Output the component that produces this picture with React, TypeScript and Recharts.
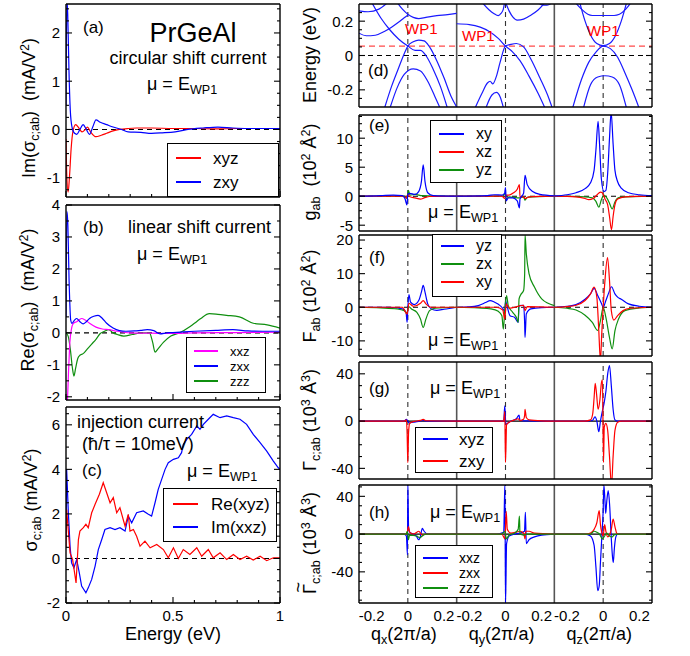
import React from 'react';
import { LineChart, Line, XAxis, YAxis, ReferenceLine } from 'recharts';

type Pt = [number, number];
type Side = 'left' | 'right' | 'top' | 'bottom';

const FONT = '"Liberation Sans", Arial, Helvetica, sans-serif';
const RED = '#ff0000';
const BLUE = '#0000ff';
const GREEN = '#0f8f0f';
const MAGENTA = '#ff00ff';
const BAND = '#1a1aff';
const SPAN = 0.54; // one q window (-0.27..0.27) in the joined x coordinate
const HALF = 0.27;
const PAD = 10; // extra room above/below each plot so edge labels are not clipped

// ---------- left column: energy axis
const energyTicks = [0, 0.5, 1];
const energyMinor = [0.1, 0.2, 0.3, 0.4, 0.6, 0.7, 0.8, 0.9];

// (a) circular shift current
const aTicks = [-1, 0, 1, 2];
const aMinor = [-1.25, -0.75, -0.5, -0.25, 0.25, 0.5, 0.75, 1.25, 1.5, 1.75, 2.25, 2.5];
const aXyz: Pt[] = [[0, -0.2], [0.004, -1.0], [0.01, -1.3], [0.016, -1.0], [0.024, -0.4], [0.032, -0.05], [0.045, 0.1], [0.06, 0.03], [0.075, -0.05], [0.09, 0.0], [0.1, 0.05], [0.115, -0.05], [0.14, -0.15], [0.165, -0.12], [0.19, -0.08], [0.22, -0.03], [0.25, 0.0], [0.29, 0.02], [0.33, 0.03], [0.4, 0.03], [0.5, 0.02], [0.6, 0.02], [0.7, 0.01], [0.8, 0.02], [0.9, 0.02], [1.0, 0.02]];
const aZxy: Pt[] = [[0, 0.5], [0.004, 2.7], [0.008, 2.4], [0.014, 1.2], [0.02, 0.4], [0.028, 0.05], [0.04, -0.08], [0.05, -0.1], [0.065, 0.0], [0.08, 0.1], [0.095, 0.0], [0.11, -0.1], [0.125, 0.05], [0.14, 0.2], [0.16, 0.15], [0.19, 0.1], [0.22, 0.05], [0.26, 0.0], [0.29, -0.05], [0.35, -0.06], [0.4, -0.08], [0.45, -0.07], [0.51, -0.05], [0.57, 0.0], [0.64, 0.03], [0.71, 0.05], [0.78, 0.03], [0.85, 0.02], [1.0, 0.02]];

// (b) linear shift current
const bTicks = [-2, -1, 0, 1, 2, 3, 4];
const bMinor = [-1.5, -0.5, 0.5, 1.5, 2.5, 3.5];
const bXxz: Pt[] = [[0, -2.5], [0.006, -2.2], [0.012, -1.2], [0.018, -0.3], [0.025, 0.1], [0.035, 0.3], [0.05, 0.35], [0.073, 0.45], [0.09, 0.4], [0.11, 0.3], [0.14, 0.18], [0.17, 0.12], [0.2, 0.1], [0.24, 0.05], [0.3, 0.0], [0.4, -0.01], [0.5, -0.02], [0.6, 0.0], [0.8, 0.01], [1.0, 0.02]];
const bZxx: Pt[] = [[0, 0.5], [0.004, 3.8], [0.008, 3.5], [0.015, 1.5], [0.022, 0.4], [0.028, 0.3], [0.04, 0.4], [0.05, 0.45], [0.065, 0.35], [0.08, 0.28], [0.095, 0.35], [0.11, 0.45], [0.13, 0.52], [0.15, 0.55], [0.17, 0.45], [0.19, 0.3], [0.22, 0.15], [0.25, 0.07], [0.28, 0.05], [0.32, 0.06], [0.35, 0.08], [0.38, 0.1], [0.41, 0.07], [0.44, -0.03], [0.47, 0.0], [0.5, 0.01], [0.6, 0.05], [0.7, 0.08], [0.78, 0.1], [0.85, 0.06], [0.92, 0.05], [1.0, 0.05]];
const bZzz: Pt[] = [[0, 0.0], [0.01, -0.1], [0.02, -0.5], [0.03, -1.1], [0.037, -1.35], [0.045, -1.1], [0.055, -0.8], [0.065, -0.7], [0.08, -0.65], [0.1, -0.5], [0.12, -0.35], [0.14, -0.2], [0.16, -0.02], [0.18, 0.05], [0.2, 0.1], [0.22, 0.0], [0.24, -0.05], [0.27, -0.1], [0.31, -0.05], [0.35, 0.0], [0.39, 0.0], [0.405, -0.3], [0.416, -0.6], [0.43, -0.5], [0.455, -0.3], [0.49, -0.1], [0.53, 0.0], [0.58, 0.2], [0.61, 0.35], [0.63, 0.45], [0.67, 0.6], [0.71, 0.58], [0.75, 0.55], [0.81, 0.5], [0.875, 0.3], [0.94, 0.25], [1.0, 0.15]];

// (c) injection current
const cTicks = [-2, 0, 2, 4, 6];
const cMinor = [-1.5, -1, -0.5, 0.5, 1, 1.5, 2.5, 3, 3.5, 4.5, 5, 5.5, 6.5];
const cReXyz: Pt[] = [[0, 0.5], [0.003, 2.2], [0.019, 0.25], [0.031, -0.05], [0.047, -1.1], [0.058, 0.85], [0.065, 1.23], [0.081, 1.38], [0.093, 1.53], [0.104, 1.38], [0.12, 2.05], [0.136, 2.43], [0.156, 2.88], [0.174, 3.4], [0.19, 2.95], [0.206, 2.5], [0.221, 2.73], [0.237, 2.05], [0.252, 2.28], [0.276, 1.45], [0.291, 1.98], [0.299, 1.23], [0.315, 1.3], [0.33, 1.0], [0.346, 0.55], [0.369, 0.78], [0.393, 0.48], [0.424, 0.63], [0.455, 0.4], [0.478, 0.03], [0.502, 0.48], [0.525, 0.0], [0.548, 0.4], [0.579, 0.18], [0.611, 0.48], [0.634, 0.1], [0.665, 0.4], [0.688, 0.03], [0.72, 0.25], [0.751, -0.05], [0.782, 0.18], [0.813, -0.05], [0.844, 0.1], [0.875, -0.07], [0.907, 0.1], [0.938, -0.1], [0.969, 0.03], [1.0, 0.03]];
const cImXxz: Pt[] = [[0, 1.0], [0.003, 4.0], [0.011, 2.05], [0.019, 0.55], [0.026, -0.2], [0.037, -0.42], [0.05, -0.05], [0.062, -0.64], [0.073, -1.24], [0.093, -1.54], [0.104, -1.32], [0.12, -0.94], [0.136, -0.34], [0.151, 0.4], [0.167, 0.85], [0.182, 1.3], [0.206, 1.38], [0.229, 1.3], [0.252, 1.38], [0.276, 1.23], [0.291, 1.9], [0.307, 1.6], [0.33, 2.05], [0.361, 2.13], [0.385, 1.98], [0.4, 1.9], [0.416, 2.5], [0.431, 3.1], [0.447, 3.55], [0.463, 4.0], [0.478, 4.3], [0.502, 4.45], [0.525, 4.52], [0.54, 4.75], [0.548, 5.12], [0.564, 5.35], [0.587, 5.57], [0.611, 5.95], [0.626, 5.8], [0.642, 6.02], [0.665, 6.25], [0.688, 6.47], [0.72, 6.32], [0.751, 6.4], [0.782, 6.32], [0.813, 6.25], [0.844, 6.02], [0.875, 5.57], [0.907, 5.2], [0.938, 4.82], [0.969, 4.37], [0.992, 4.07], [1.0, 4.0]];

// ---------- right column: q windows (qx, qy, qz)
const qTicks = [-0.2, 0, 0.2];
const qNames = ['x', 'y', 'z'];
const wp1Energy = 0.055;

// (d) bands, one list per window
const dTicks = [-0.2, 0, 0.2];
const dMinor = [-0.25, -0.15, -0.1, -0.05, 0.05, 0.1, 0.15, 0.25];
const bandsQx: Pt[][] = [
  [[-0.27, 0.26], [-0.22, 0.255], [-0.16, 0.27], [-0.11, 0.31]],
  [[-0.06, 0.31], [-0.03, 0.27], [0.0, 0.24], [0.03, 0.222], [0.06, 0.215], [0.1, 0.222], [0.16, 0.232], [0.22, 0.238], [0.27, 0.245]],
  [[-0.27, 0.13], [-0.23, 0.115], [-0.18, 0.118], [-0.13, 0.14], [-0.09, 0.165], [-0.05, 0.195], [-0.02, 0.22], [0.0, 0.235]],
  [[-0.2, 0.31], [-0.15, 0.22], [-0.1, 0.15], [-0.05, 0.095], [0, 0.055], [0.04, 0.03], [0.07, 0.03], [0.1, 0.0], [0.14, -0.08], [0.18, -0.18], [0.22, -0.31]],
  [[-0.13, -0.31], [-0.09, -0.18], [-0.05, -0.07], [-0.02, 0.01], [0, 0.055], [0.03, 0.08], [0.06, 0.09], [0.09, 0.085], [0.12, 0.05], [0.16, -0.03], [0.2, -0.13], [0.24, -0.24], [0.27, -0.3]],
  [[-0.1, -0.31], [-0.06, -0.19], [-0.02, -0.11], [0.03, -0.078], [0.07, -0.09], [0.11, -0.15], [0.15, -0.24], [0.18, -0.31]],
];
const bandsQy: Pt[][] = [
  [[-0.13, 0.31], [-0.09, 0.265], [-0.065, 0.245], [-0.04, 0.232], [-0.025, 0.245], [-0.012, 0.27], [-0.005, 0.31]],
  [[0.0, 0.31], [0.02, 0.26], [0.04, 0.225], [0.065, 0.206], [0.1, 0.212], [0.14, 0.235], [0.18, 0.265], [0.22, 0.31]],
  [[-0.27, 0.185], [-0.2, 0.18], [-0.14, 0.165], [-0.09, 0.14], [-0.04, 0.1], [0, 0.055], [0.04, 0.02], [0.08, -0.03], [0.13, -0.12], [0.18, -0.22], [0.22, -0.31]],
  [[-0.17, -0.31], [-0.13, -0.22], [-0.1, -0.16], [-0.085, -0.15], [-0.07, -0.165], [-0.05, -0.12], [-0.03, -0.04], [0, 0.055], [0.03, 0.065], [0.06, 0.07], [0.1, 0.05], [0.14, -0.02], [0.19, -0.13], [0.24, -0.25], [0.26, -0.31]],
  [[-0.11, -0.31], [-0.075, -0.23], [-0.05, -0.215], [-0.03, -0.24], [-0.01, -0.31]],
  [[0.18, 0.31], [0.2, 0.295], [0.23, 0.293], [0.26, 0.31]],
];
const bandsQz: Pt[][] = [
  [[-0.155, 0.31], [-0.12, 0.27], [-0.085, 0.24], [-0.06, 0.233], [0.06, 0.233], [0.09, 0.24], [0.125, 0.27], [0.155, 0.31]],
  [[-0.13, 0.31], [-0.1, 0.2], [-0.07, 0.12], [-0.035, 0.07], [0, 0.057], [0.035, 0.07], [0.07, 0.12], [0.1, 0.2], [0.13, 0.31]],
  [[-0.17, -0.31], [-0.12, -0.14], [-0.08, -0.04], [-0.04, 0.02], [0, 0.055], [0.04, 0.04], [0.08, -0.01], [0.12, -0.1], [0.16, -0.2], [0.2, -0.31]],
  [[-0.11, -0.31], [-0.07, -0.17], [-0.03, -0.125], [0.01, -0.118], [0.05, -0.125], [0.09, -0.17], [0.13, -0.31]],
];

// (e) quantum metric g_ab, series per window [qx, qy, qz]
const eTicks = [-5, 0, 5, 10];
const eMinor = [-3.75, -2.5, -1.25, 1.25, 2.5, 3.75, 6.25, 7.5, 8.75, 11.25, 12.5, 13.75];
const eXy: Pt[][] = [
  [[-0.27, 0], [-0.15, 0.1], [-0.08, 0.2], [-0.03, 0.1], [-0.015, -0.5], [-0.005, -1.5], [0.0, 0.3], [0.01, 0.5], [0.04, 0.3], [0.06, 0.8], [0.075, 2.5], [0.085, 5.4], [0.095, 2.5], [0.11, 0.6], [0.14, 0.1], [0.27, 0]],
  [[-0.27, 0], [-0.1, 0.1], [-0.06, 0.25], [-0.02, 0.2], [-0.005, 0.5], [0.0, 1.5], [0.004, -0.8], [0.015, -0.3], [0.04, -0.3], [0.065, -0.8], [0.077, -2.0], [0.08, -0.5], [0.1, 0.5], [0.108, 3.6], [0.12, 2.0], [0.15, 0.8], [0.19, 0.3], [0.27, 0.05]],
  [[-0.27, 0.05], [-0.2, 0.25], [-0.15, 0.6], [-0.1, 1.3], [-0.07, 2.3], [-0.05, 4.5], [-0.04, 8], [-0.028, 12.9], [-0.02, 9], [-0.01, 3], [0.004, 0.8], [0.015, 1], [0.025, 4], [0.035, 10], [0.044, 14.5], [0.055, 9], [0.065, 4.5], [0.08, 2.5], [0.1, 1.4], [0.14, 0.6], [0.2, 0.25], [0.27, 0.1]],
];
const eXz: Pt[][] = [
  [[-0.27, 0], [-0.03, 0], [-0.008, -0.3], [0.0, 0.3], [0.012, -0.1], [0.04, -0.3], [0.07, -0.5], [0.09, -0.3], [0.12, -0.05], [0.27, 0]],
  [[-0.27, 0], [-0.02, 0], [-0.004, -0.4], [0.004, 0.2], [0.02, 0.2], [0.045, 0.6], [0.065, 1.2], [0.077, 2.0], [0.08, -0.1], [0.1, -0.1], [0.108, -0.4], [0.13, -0.1], [0.27, 0]],
  [[-0.27, 0], [-0.15, -0.1], [-0.1, -0.4], [-0.08, -0.6], [-0.055, -0.4], [-0.035, 0.2], [-0.015, 0.7], [-0.005, 0.6], [0.01, -0.5], [0.025, -1.5], [0.035, -3.5], [0.046, -5.8], [0.055, -3.5], [0.065, -1.5], [0.08, -0.5], [0.12, -0.1], [0.27, 0]],
];
const eYz: Pt[][] = [
  [[-0.27, 0], [-0.02, 0], [-0.004, -0.4], [0.003, 1.0], [0.012, 0.2], [0.04, 0.3], [0.08, 0.1], [0.27, 0]],
  [[-0.27, 0], [-0.015, 0], [-0.003, 0.5], [0.004, -0.5], [0.02, -0.1], [0.077, -0.3], [0.1, -0.1], [0.108, -0.7], [0.12, -0.2], [0.27, 0]],
  [[-0.27, 0], [-0.1, -0.1], [-0.06, -0.3], [-0.04, -0.9], [-0.024, -1.9], [-0.01, -0.6], [0.005, 0.2], [0.02, -0.3], [0.035, -1.2], [0.05, -2.2], [0.065, -1.0], [0.09, -0.2], [0.27, 0]],
];

// (f) Berry curvature F_ab
const fTicks = [-10, 0, 10, 20];
const fMinor = [-12.5, -7.5, -5, -2.5, 2.5, 5, 7.5, 12.5, 15, 17.5];
const fYz: Pt[][] = [
  [[-0.27, 0], [-0.1, 0], [-0.03, -0.5], [-0.01, -1.5], [-0.004, -4.5], [0.0, 0], [0.006, 3.8], [0.015, 1.5], [0.035, 0.8], [0.06, 2], [0.075, 4.5], [0.085, 6.5], [0.095, 4.5], [0.11, 1.0], [0.13, -0.5], [0.16, -0.9], [0.2, -0.6], [0.27, 0]],
  [[-0.27, 0], [-0.2, 0.1], [-0.15, 0.5], [-0.11, 1.4], [-0.085, 2.0], [-0.06, 1.5], [-0.03, 0.5], [-0.012, -0.6], [-0.004, -1.5], [0.0, 2.0], [0.008, 0.5], [0.025, -2.5], [0.05, -3], [0.07, -4.5], [0.075, 0.5], [0.1, 0.6], [0.106, -5], [0.108, -9], [0.115, -2], [0.14, -0.5], [0.2, -0.1], [0.27, 0]],
  [[-0.27, 0], [-0.2, 0.3], [-0.15, 0.8], [-0.1, 2.4], [-0.07, 4], [-0.05, 5.6], [-0.03, 3.5], [-0.01, 1.2], [0.0, 0], [0.015, 2], [0.03, 4.2], [0.046, 6.1], [0.065, 4], [0.08, 3], [0.1, 2.4], [0.14, 1], [0.2, 0.3], [0.27, 0]],
];
const fZx: Pt[][] = [
  [[-0.27, 0], [-0.15, -0.2], [-0.06, -0.5], [-0.02, -1], [-0.005, -1.8], [0.005, 0.2], [0.02, -0.5], [0.05, -1.5], [0.07, -3.5], [0.085, -6], [0.1, -3.5], [0.12, -1], [0.15, -0.3], [0.27, 0]],
  [[-0.27, 0], [-0.15, -0.2], [-0.08, -0.5], [-0.04, -1.2], [-0.02, -2.5], [-0.012, -6.5], [-0.004, -1], [0.006, 3.5], [0.015, 0.5], [0.04, -1.5], [0.06, -3], [0.07, -4.5], [0.075, 2.5], [0.085, 3.8], [0.1, 5], [0.106, 10], [0.108, 21.5], [0.115, 16], [0.13, 10], [0.16, 6], [0.2, 2.5], [0.27, 0.5]],
  [[-0.27, 0], [-0.2, -0.3], [-0.15, -0.8], [-0.1, -2.4], [-0.06, -4.5], [-0.03, -6.9], [-0.015, -4], [0.0, 0], [0.015, -3], [0.035, -9], [0.05, -12.4], [0.065, -7], [0.085, -3.5], [0.12, -1], [0.2, -0.2], [0.27, 0]],
];
const fXy: Pt[][] = [
  [[-0.27, 0], [-0.03, 0], [-0.004, -2], [0.006, 1.2], [0.03, 0.3], [0.07, 1.2], [0.085, 2], [0.1, 1], [0.13, 0], [0.27, 0]],
  [[-0.27, 0], [-0.05, 0], [-0.015, -0.8], [-0.004, -3.5], [0.004, 1], [0.02, -0.3], [0.05, 0], [0.1, 0.6], [0.108, -1], [0.12, 0.2], [0.27, 0]],
  [[-0.27, 0], [-0.2, 0.2], [-0.15, 0.6], [-0.1, 2], [-0.07, 4], [-0.05, 6], [-0.035, 3], [-0.025, -6], [-0.015, -16], [-0.008, -8], [0.0, 0], [0.01, 8], [0.024, 14.8], [0.035, 8], [0.045, -1], [0.059, -3.8], [0.08, -2.5], [0.11, -1], [0.15, -0.3], [0.27, 0]],
];

// (g) Gamma_c;ab
const gTicks = [-40, 0, 40];
const gMinor = [-30, -20, -10, 10, 20, 30];
const gXyz: Pt[][] = [
  [[-0.27, 0], [-0.02, 0], [-0.008, 1.5], [-0.002, 0.5], [0.006, -1.5], [0.03, -1], [0.06, -0.3], [0.085, 0.5], [0.1, 0], [0.27, 0]],
  [[-0.27, 0], [-0.01, 0], [-0.004, 13], [0.002, -3], [0.01, -2], [0.03, 0], [0.06, 2], [0.075, 5], [0.08, 0.5], [0.1, 0.2], [0.27, 0]],
  [[-0.27, 0], [-0.1, 0], [-0.06, 0.5], [-0.045, 3.5], [-0.035, 0], [-0.024, -9], [-0.015, 0], [-0.005, 8], [0.005, 15], [0.015, 25], [0.025, 40], [0.035, 47], [0.045, 30], [0.055, 10], [0.065, 1], [0.08, 0], [0.27, 0]],
];
const gZxy: Pt[][] = [
  [[-0.27, 0], [-0.02, 0], [-0.008, 1], [-0.004, -10], [0.0, -35], [0.004, -10], [0.01, -2], [0.03, -0.5], [0.07, 0.6], [0.085, 1.5], [0.1, 0.3], [0.27, 0]],
  [[-0.27, 0], [-0.01, 0], [-0.004, 8], [0.0, -35], [0.006, -3], [0.02, -1], [0.05, 1], [0.07, 2], [0.08, 0.5], [0.1, 1.5], [0.106, 5], [0.108, 10], [0.115, 3], [0.13, 1], [0.2, 0.2], [0.27, 0]],
  [[-0.27, 0], [-0.1, 0], [-0.07, 1], [-0.058, 6], [-0.05, 20], [-0.044, 32], [-0.036, 22], [-0.028, 10], [-0.018, 18], [-0.01, 32], [-0.004, 35], [0.002, -35], [0.006, -5], [0.015, -2], [0.025, -8], [0.035, -30], [0.046, -55], [0.055, -30], [0.065, -8], [0.08, -1], [0.1, 0], [0.27, 0]],
];

// (h) tilde Gamma_c;ab
const hTicks = [-40, 0, 40];
const hMinor = [-70, -60, -50, -30, -20, -10, 10, 20, 30, 50];
const hXxz: Pt[][] = [
  [[-0.27, 0], [-0.02, 0], [-0.008, -2], [-0.002, -22], [0.0, 55], [0.004, 8], [0.01, 2], [0.03, 0], [0.05, -3], [0.06, -6], [0.07, -2], [0.08, 6], [0.09, 3], [0.11, 0], [0.27, 0]],
  [[-0.27, 0], [-0.05, 0], [-0.01, 2], [-0.003, 55], [0.0, -75], [0.006, -10], [0.02, -2], [0.05, 0], [0.08, 1], [0.105, 3], [0.11, 23], [0.115, -10], [0.13, -6], [0.16, -3], [0.2, -1], [0.27, 0]],
  [[-0.27, 0], [-0.1, 0], [-0.07, -2], [-0.05, -12], [-0.04, -35], [-0.03, -60], [-0.022, -55], [-0.015, -30], [-0.008, -5], [0.0, 25], [0.004, 52], [0.01, 35], [0.014, 22], [0.02, 35], [0.028, 46], [0.036, 30], [0.045, -5], [0.052, -25], [0.056, -30], [0.062, -15], [0.07, -3], [0.08, 0], [0.27, 0]],
];
const hZxx: Pt[][] = [
  [[-0.27, 0], [-0.01, 0], [-0.003, 2], [0.003, 8], [0.01, 2], [0.03, 0], [0.05, 2], [0.06, 3], [0.08, -1], [0.1, 0], [0.27, 0]],
  [[-0.27, 0], [-0.02, 0], [-0.003, -5], [0.004, 24], [0.01, 5], [0.03, 1], [0.06, 2], [0.08, 3], [0.1, 1], [0.108, -5], [0.112, 3], [0.13, 3], [0.16, 1], [0.27, 0]],
  [[-0.27, 0], [-0.1, 0], [-0.07, 1], [-0.05, 5], [-0.035, 12], [-0.022, 25], [-0.015, 10], [-0.008, 2], [0.0, -2], [0.008, 10], [0.015, 3], [0.025, -3], [0.035, -1], [0.045, 5], [0.055, 16], [0.065, 8], [0.075, 1], [0.09, 0], [0.27, 0]],
];
const hZzz: Pt[][] = [
  [[-0.27, 0], [-0.01, 0], [-0.003, 3], [0.003, -6], [0.01, -1], [0.05, -2], [0.065, -4], [0.08, -2], [0.1, 0], [0.27, 0]],
  [[-0.27, 0], [-0.02, 0], [-0.003, 3], [0.004, -5], [0.02, -1], [0.05, 1], [0.07, 5], [0.077, 19], [0.08, 0], [0.1, -1], [0.12, 0], [0.27, 0]],
  [[-0.27, 0], [-0.07, 0], [-0.05, 3], [-0.035, 2], [-0.02, 0], [-0.005, -5], [0.005, -3], [0.02, 1], [0.035, -2], [0.05, -3], [0.06, -1], [0.08, 0], [0.27, 0]],
];

// ---------- helpers
interface Curve { pts: { x: number; y: number }[]; color: string; type?: 'linear' | 'monotone' }
interface AxisSpec { domain: [number, number]; major: number[]; minor: number[] }

const plain = (pts: Pt[]) => pts.map(([x, y]) => ({ x, y }));
const inWindow = (s: number, pts: Pt[]) => pts.map(([q, y]) => ({ x: s * SPAN + HALF + q, y }));
const perWindow = (series: Pt[][], color: string): Curve[] =>
  series.map((pts, s) => ({ pts: inWindow(s, pts), color }));

const joinedQTicks = [0, 1, 2].flatMap((s) => qTicks.map((q) => s * SPAN + HALF + q));
const qLabel = (x: number) => {
  const s = Math.min(2, Math.floor(x / SPAN));
  const q = Math.round((x - s * SPAN - HALF) * 10) / 10;
  return q === 0 ? '0' : String(q);
};

const tickMaker = (side: Side, major: number[], marks: boolean, labels: boolean, fmt: (v: number) => string = String) =>
  (props: any) => {
    const { x, y, payload } = props;
    const v: number = payload.value;
    const isMajor = major.some((m) => Math.abs(m - v) < 1e-9);
    const len = marks ? (isMajor ? 6 : 3) : 0;
    const st = { stroke: '#000', strokeWidth: 1.1 };
    let mark: React.ReactNode = null;
    if (len && side === 'left') mark = <line x1={x} y1={y} x2={x + len} y2={y} {...st} />;
    if (len && side === 'right') mark = <line x1={x} y1={y} x2={x - len} y2={y} {...st} />;
    if (len && side === 'bottom') mark = <line x1={x} y1={y} x2={x} y2={y - len} {...st} />;
    if (len && side === 'top') mark = <line x1={x} y1={y} x2={x} y2={y + len} {...st} />;
    let text: React.ReactNode = null;
    if (labels && isMajor) {
      const tp = { fill: '#000', fontSize: 15, fontFamily: FONT };
      text = side === 'left'
        ? <text x={x - 6} y={y} dy="0.36em" textAnchor="end" {...tp}>{fmt(v)}</text>
        : <text x={x} y={y + 7} dy="0.72em" textAnchor="middle" {...tp}>{fmt(v)}</text>;
    }
    return <g>{mark}{text}</g>;
  };

interface PanelProps {
  left: number; top: number; width: number; height: number;
  margin: { top: number; right: number; bottom: number; left: number };
  x: AxisSpec; y: AxisSpec;
  xMarks: boolean; xLabels: boolean; xFormat?: (v: number) => string;
  curves: Curve[];
  children?: React.ReactNode;
}

const Panel: React.FC<PanelProps> = (p) => {
  const frame = { stroke: '#000', strokeWidth: 1.4 };
  const xTicks = [...p.x.major, ...p.x.minor];
  const yTicks = [...p.y.major, ...p.y.minor];
  const m = p.margin;
  const common = { type: 'number' as const, allowDataOverflow: true, interval: 0 as const, tickSize: 0, tickMargin: 0, tickLine: false, axisLine: frame };
  return (
    <div style={{ position: 'absolute', left: p.left, top: p.top - PAD }}>
      <LineChart width={p.width} height={p.height + 2 * PAD}
        margin={{ top: m.top + PAD - 1, right: m.right - 1, bottom: m.bottom + PAD - 1, left: m.left - 1 }}>
        <XAxis {...common} dataKey="x" domain={p.x.domain} ticks={xTicks} height={1}
          tick={tickMaker('bottom', p.x.major, p.xMarks, p.xLabels, p.xFormat)} />
        <XAxis {...common} xAxisId="top" orientation="top" domain={p.x.domain} ticks={xTicks} height={1}
          tick={tickMaker('top', p.x.major, p.xMarks, false)} />
        <YAxis {...common} domain={p.y.domain} ticks={yTicks} width={1}
          tick={tickMaker('left', p.y.major, true, true)} />
        <YAxis {...common} yAxisId="right" orientation="right" domain={p.y.domain} ticks={yTicks} width={1}
          tick={tickMaker('right', p.y.major, true, false)} />
        {p.children}
        {p.curves.map((c, i) => (
          <Line key={i} data={c.pts} dataKey="y" type={c.type ?? 'monotone'} stroke={c.color}
            strokeWidth={1.2} dot={false} activeDot={false} isAnimationActive={false} />
        ))}
      </LineChart>
    </div>
  );
};

const windowLines = (zeroDashed: boolean) => [
  <ReferenceLine key="b1" x={SPAN} stroke="#555" strokeWidth={1.6} />,
  <ReferenceLine key="b2" x={2 * SPAN} stroke="#555" strokeWidth={1.6} />,
  ...[0, 1, 2].map((s) => (
    <ReferenceLine key={'q' + s} x={s * SPAN + HALF} stroke="#333" strokeWidth={1.1} strokeDasharray="5 4" />
  )),
  <ReferenceLine key="z" y={0} stroke="#000" strokeWidth={1.1} strokeDasharray={zeroDashed ? '5 4' : undefined} />,
];

// ---------- text overlays
const Sub: React.FC<{ children: React.ReactNode }> = ({ children }) => (
  <span style={{ fontSize: '0.7em', position: 'relative', top: '0.35em' }}>{children}</span>
);
const Sup: React.FC<{ children: React.ReactNode }> = ({ children }) => (
  <span style={{ fontSize: '0.7em', position: 'relative', top: '-0.45em' }}>{children}</span>
);
const TildeGamma: React.FC = () => (
  <span style={{ position: 'relative' }}>
    Γ<span style={{ position: 'absolute', left: '0.08em', top: '-0.62em' }}>~</span>
  </span>
);

const Txt: React.FC<{ x: number; y: number; size?: number; color?: string; align?: 'start' | 'middle' | 'end'; children: React.ReactNode }> =
  ({ x, y, size = 18, color = '#000', align = 'start', children }) => {
    const tx = align === 'middle' ? '-50%' : align === 'end' ? '-100%' : '0';
    return (
      <div style={{ position: 'absolute', left: x, top: y, transform: `translate(${tx}, -50%)`, fontSize: size, color, fontFamily: FONT, lineHeight: 1, whiteSpace: 'nowrap' }}>
        {children}
      </div>
    );
  };

const VTxt: React.FC<{ x: number; y: number; size?: number; children: React.ReactNode }> = ({ x, y, size = 18, children }) => (
  <div style={{ position: 'absolute', left: x, top: y, transform: 'translate(-50%, -50%) rotate(-90deg)', fontSize: size, fontFamily: FONT, lineHeight: 1, whiteSpace: 'nowrap' }}>
    {children}
  </div>
);

interface LegendItem { label: string; color: string }
const LegendBox: React.FC<{ x: number; y: number; w: number; h: number; rows: number[]; items: LegendItem[]; line: [number, number]; textX: number; size: number }> =
  ({ x, y, w, h, rows, items, line, textX, size }) => (
    <div style={{ position: 'absolute', left: x, top: y, width: w, height: h, boxSizing: 'border-box', border: '1.5px solid #000', background: '#fff' }}>
      {items.map((it, i) => (
        <React.Fragment key={it.label}>
          <div style={{ position: 'absolute', left: line[0], top: rows[i] - 1, width: line[1] - line[0], height: 1.5, background: it.color }} />
          <Txt x={textX} y={rows[i]} size={size}>{it.label}</Txt>
        </React.Fragment>
      ))}
    </div>
  );

const Mu: React.FC<{ x: number; y: number }> = ({ x, y }) => (
  <Txt x={x} y={y} size={18}>μ = E<Sub>WP1</Sub></Txt>
);

// ---------- layout
const LEFT = { left: 0, width: 290 };
const RIGHT = { left: 290, width: 400 };
const mL = { left: 66, right: 10 };
const mR = { left: 69, right: 38 };
const energyAxis = { domain: [0, 1] as [number, number], major: energyTicks, minor: energyMinor };
const qAxis = { domain: [0, 3 * SPAN] as [number, number], major: joinedQTicks, minor: [] as number[] };

const App: React.FC = () => {
  return (
    <div style={{ position: 'absolute', left: 0, top: 0, width: 690, height: 656, background: '#fff', overflow: 'hidden' }}>
      {/* (a) */}
      <Panel {...LEFT} top={0} height={202} margin={{ top: 4, bottom: 5, ...mL }}
        x={energyAxis} y={{ domain: [-1.4, 2.6], major: aTicks, minor: aMinor }} xMarks xLabels={false}
        curves={[{ pts: plain(aXyz), color: RED }, { pts: plain(aZxy), color: BLUE }]}>
        <ReferenceLine y={0} stroke="#000" strokeWidth={1.1} strokeDasharray="5 4" />
      </Panel>
      {/* (b) */}
      <Panel {...LEFT} top={201} height={203} margin={{ top: 4, bottom: 4, ...mL }}
        x={energyAxis} y={{ domain: [-2.1, 4], major: bTicks, minor: bMinor }} xMarks xLabels={false}
        curves={[{ pts: plain(bZzz), color: GREEN }, { pts: plain(bXxz), color: MAGENTA }, { pts: plain(bZxx), color: BLUE }]}>
        <ReferenceLine y={0} stroke="#000" strokeWidth={1.1} strokeDasharray="5 4" />
      </Panel>
      {/* (c) */}
      <Panel {...LEFT} top={403} height={253} margin={{ top: 4, bottom: 53, ...mL }}
        x={energyAxis} y={{ domain: [-2, 6.8], major: cTicks, minor: cMinor }} xMarks xLabels
        curves={[{ pts: plain(cImXxz), color: BLUE, type: 'linear' }, { pts: plain(cReXyz), color: RED, type: 'linear' }]}>
        <ReferenceLine y={0} stroke="#000" strokeWidth={1.1} strokeDasharray="5 4" />
      </Panel>

      {/* (d) */}
      <Panel {...RIGHT} top={0} height={111} margin={{ top: 4, bottom: 4, ...mR }}
        x={qAxis} y={{ domain: [-0.3, 0.3], major: dTicks, minor: dMinor }} xMarks={false} xLabels={false}
        curves={[bandsQx, bandsQy, bandsQz].flatMap((bands, s) => bands.map((b) => ({ pts: inWindow(s, b), color: BAND })))}>
        {windowLines(true)}
        <ReferenceLine y={wp1Energy} stroke="#ff4a4a" strokeWidth={1.3} strokeDasharray="6 4" />
      </Panel>
      {/* (e) */}
      <Panel {...RIGHT} top={111} height={124} margin={{ top: 4, bottom: 4, ...mR }}
        x={qAxis} y={{ domain: [-6, 14], major: eTicks, minor: eMinor }} xMarks={false} xLabels={false}
        curves={[...perWindow(eYz, GREEN), ...perWindow(eXz, RED), ...perWindow(eXy, BLUE)]}>
        {windowLines(true)}
      </Panel>
      {/* (f) */}
      <Panel {...RIGHT} top={231} height={129} margin={{ top: 4, bottom: 4, ...mR }}
        x={qAxis} y={{ domain: [-14.5, 21.5], major: fTicks, minor: fMinor }} xMarks={false} xLabels={false}
        curves={[...perWindow(fYz, BLUE), ...perWindow(fZx, GREEN), ...perWindow(fXy, RED)]}>
        {windowLines(true)}
      </Panel>
      {/* (g) */}
      <Panel {...RIGHT} top={358} height={125} margin={{ top: 4, bottom: 4, ...mR }}
        x={qAxis} y={{ domain: [-49, 50], major: gTicks, minor: gMinor }} xMarks={false} xLabels={false}
        curves={[...perWindow(gXyz, BLUE), ...perWindow(gZxy, RED)]}>
        {windowLines(false)}
      </Panel>
      {/* (h) */}
      <Panel {...RIGHT} top={481} height={175} margin={{ top: 4, bottom: 53, ...mR }}
        x={qAxis} y={{ domain: [-73, 52], major: hTicks, minor: hMinor }} xMarks={false} xLabels xFormat={qLabel}
        curves={[...perWindow(hXxz, BLUE), ...perWindow(hZxx, RED), ...perWindow(hZzz, GREEN)]}>
        {windowLines(false)}
      </Panel>

      {/* axis titles */}
      <VTxt x={29} y={108}>Im(σ<Sub>c;ab</Sub>)&nbsp;&nbsp;(mA/V<Sup>2</Sup>)</VTxt>
      <VTxt x={28} y={300}>Re(σ<Sub>c;ab</Sub>)&nbsp;&nbsp;(mA/V<Sup>2</Sup>)</VTxt>
      <VTxt x={31} y={500}>σ<Sub>c;ab</Sub> (mA/V<Sup>2</Sup>)</VTxt>
      <Txt x={173} y={634} size={18} align="middle">Energy (eV)</Txt>

      <VTxt x={310} y={55}>Energy (eV)</VTxt>
      <VTxt x={310} y={172}>g<Sub>ab</Sub>&nbsp;&nbsp;(10<Sup>2</Sup> Å<Sup>2</Sup>)</VTxt>
      <VTxt x={310} y={296}>F<Sub>ab</Sub> (10<Sup>2</Sup> Å<Sup>2</Sup>)</VTxt>
      <VTxt x={310} y={420}>Γ<Sub>c;ab</Sub> (10<Sup>3</Sup> Å<Sup>3</Sup>)</VTxt>
      <VTxt x={310} y={543}><TildeGamma /><Sub>c;ab</Sub> (10<Sup>3</Sup> Å<Sup>3</Sup>)</VTxt>
      {qNames.map((n, s) => (
        <Txt key={n} x={359 + (s + 0.5) * 97.7 - 4} y={634} size={18} align="middle">q<Sub>{n}</Sub>(2π/a)</Txt>
      ))}

      {/* (a) annotations */}
      <Txt x={83} y={27} size={17}>(a)</Txt>
      <Txt x={193} y={33} size={27} align="middle">PrGeAl</Txt>
      <Txt x={188} y={58} align="middle">circular shift current</Txt>
      <Mu x={147} y={84} />
      <LegendBox x={167} y={143} w={112} h={54} rows={[14, 38]} line={[8, 33]} textX={45} size={17}
        items={[{ label: 'xyz', color: RED }, { label: 'zxy', color: BLUE }]} />

      {/* (b) annotations */}
      <Txt x={83} y={227} size={17}>(b)</Txt>
      <Txt x={271} y={227} align="end">linear shift current</Txt>
      <Mu x={137} y={254} />
      <LegendBox x={186} y={337} w={80} h={56} rows={[13, 28, 43]} line={[7, 31]} textX={43} size={13}
        items={[{ label: 'xxz', color: MAGENTA }, { label: 'zxx', color: BLUE }, { label: 'zzz', color: GREEN }]} />

      {/* (c) annotations */}
      <Txt x={77} y={422}>injection current</Txt>
      <Txt x={82} y={444}>(ħ/τ = 10meV)</Txt>
      <Txt x={82} y={470} size={17}>(c)</Txt>
      <Mu x={187} y={471} />
      <LegendBox x={163} y={488} w={114} h={54} rows={[15, 38]} line={[9, 34]} textX={47} size={17}
        items={[{ label: 'Re(xyz)', color: RED }, { label: 'Im(xxz)', color: BLUE }]} />

      {/* (d) annotations */}
      <Txt x={368} y={70} size={17}>(d)</Txt>
      <Txt x={405} y={28} size={15} color={RED}>WP1</Txt>
      <Txt x={462} y={35} size={15} color={RED}>WP1</Txt>
      <Txt x={587} y={30} size={15} color={RED}>WP1</Txt>

      {/* (e) */}
      <Txt x={369} y={125} size={17}>(e)</Txt>
      <Mu x={428} y={212} />
      <LegendBox x={430} y={120} w={72} h={63} rows={[13, 31, 49]} line={[8, 33]} textX={45} size={16}
        items={[{ label: 'xy', color: BLUE }, { label: 'xz', color: RED }, { label: 'yz', color: GREEN }]} />

      {/* (f) */}
      <Txt x={369} y={257} size={17}>(f)</Txt>
      <Mu x={428} y={340} />
      <LegendBox x={432} y={234} w={70} h={63} rows={[11, 29, 47]} line={[8, 31]} textX={43} size={16}
        items={[{ label: 'yz', color: BLUE }, { label: 'zx', color: GREEN }, { label: 'xy', color: RED }]} />

      {/* (g) */}
      <Txt x={369} y={388} size={17}>(g)</Txt>
      <Mu x={430} y={388} />
      <LegendBox x={415} y={427} w={78} h={46} rows={[11, 33]} line={[7, 32]} textX={43} size={17}
        items={[{ label: 'xyz', color: BLUE }, { label: 'zxy', color: RED }]} />

      {/* (h) */}
      <Txt x={369} y={512} size={17}>(h)</Txt>
      <Mu x={430} y={512} />
      <LegendBox x={415} y={545} w={78} h={53} rows={[12, 27, 42]} line={[7, 32]} textX={43} size={14}
        items={[{ label: 'xxz', color: BLUE }, { label: 'zxx', color: RED }, { label: 'zzz', color: GREEN }]} />
    </div>
  );
};

export default App;
